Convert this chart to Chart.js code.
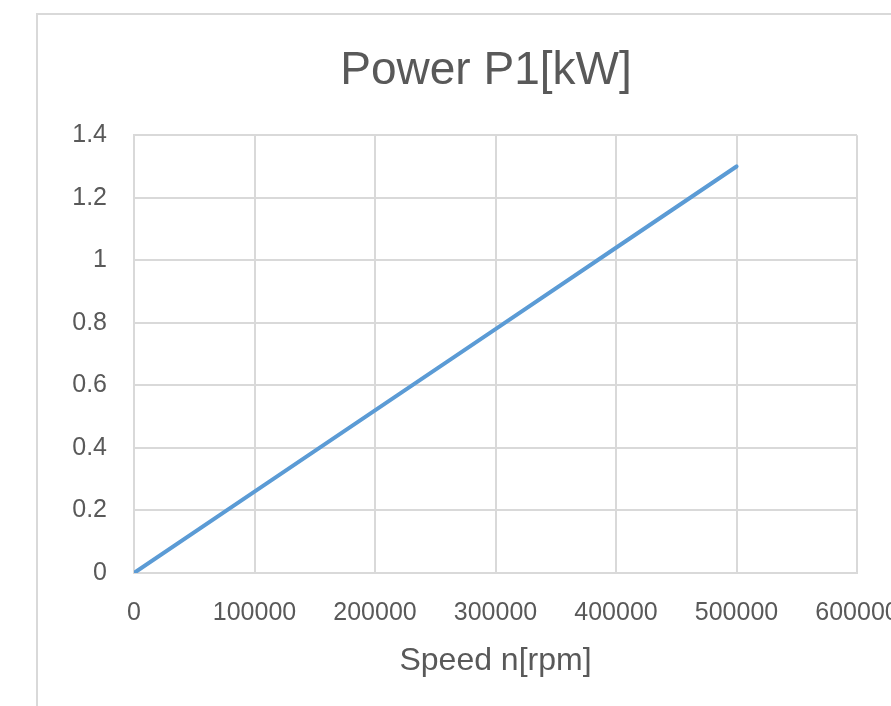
<!DOCTYPE html>
<html>
<head>
<meta charset="utf-8">
<script src="https://cdn.jsdelivr.net/npm/chart.js@4/dist/chart.umd.min.js"></script>
<style>
html,body{margin:0;padding:0;background:#fff;overflow:hidden;width:891px;height:706px;}
#wrap{width:940px;height:706px;}
</style>
</head>
<body>
<div id="wrap"><canvas id="c" width="940" height="706"></canvas></div>
<script>
const speed = [0, 100000, 200000, 300000, 400000, 500000];
const power = [0, 0.26, 0.52, 0.78, 1.04, 1.30];
const chartTitle = 'Power P1[kW]';
const xTitle = 'Speed n[rpm]';

const frame = {
  id: 'frame',
  beforeDraw(chart) {
    const ctx = chart.ctx;
    ctx.save();
    ctx.strokeStyle = '#d9d9d9';
    ctx.lineWidth = 2;
    ctx.strokeRect(37, 14, 1000, 1000);
    ctx.restore();
  }
};

const FONT = "'Liberation Sans', Arial, sans-serif";
const TXT = '#595959';
const GRID = '#d9d9d9';

new Chart(document.getElementById('c'), {
  type: 'line',
  data: {
    datasets: [{
      data: speed.map((s, i) => ({x: s, y: power[i]})),
      borderColor: '#5b9bd5',
      borderWidth: 4,
      borderCapStyle: 'round',
      pointRadius: 0,
      tension: 0,
      fill: false,
      yAxisID: 'y'
    }]
  },
  options: {
    responsive: false,
    animation: false,
    layout: {padding: {left: 60, right: 28, top: 14, bottom: 0}},
    plugins: {
      legend: {display: false},
      tooltip: {enabled: false},
      title: {
        display: true,
        text: chartTitle,
        color: TXT,
        font: {family: FONT, size: 46, weight: 'normal'},
        padding: {top: 30, bottom: 36}
      }
    },
    scales: {
      x: {
        type: 'linear',
        min: 0, max: 600000,
        afterFit(s) { s.height = 133; },
        ticks: {
          stepSize: 100000,
          color: TXT,
          padding: 25,
          maxRotation: 0,
          autoSkip: false,
          font: {family: FONT, size: 25},
          callback: v => String(v)
        },
        grid: {color: GRID, lineWidth: 2, drawTicks: false},
        border: {color: GRID, width: 2},
        title: {
          display: true,
          text: xTitle,
          color: TXT,
          font: {family: FONT, size: 32},
          padding: {top: 0, bottom: 26}
        }
      },
      y: {
        position: 'left',
        min: 0, max: 1.4,
        afterFit(s) { s.width = 74; },
        ticks: {
          stepSize: 0.2,
          color: TXT,
          padding: 27,
          font: {family: FONT, size: 25},
          callback: v => String(Math.round(v * 10) / 10)
        },
        grid: {color: GRID, lineWidth: 2, drawTicks: false},
        border: {color: GRID, width: 2}
      },
      yPad: {
        position: 'right',
        min: 0, max: 1.4,
        afterFit(s) { s.width = 55; },
        ticks: {display: false},
        grid: {display: false, drawTicks: false},
        border: {display: false}
      }
    }
  },
  plugins: [frame]
});
</script>
</body>
</html>
